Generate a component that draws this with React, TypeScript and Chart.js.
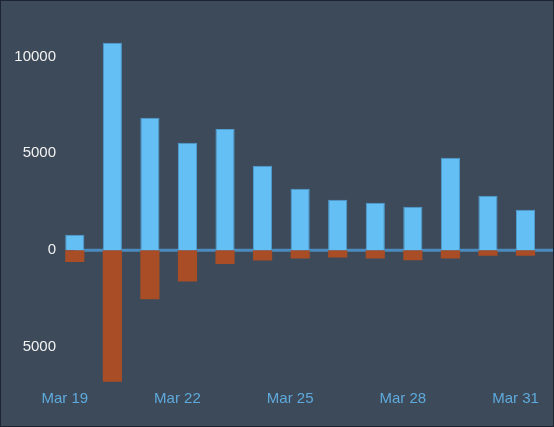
import React, { useEffect, useRef } from "react";
import { Chart, registerables } from "chart.js";

Chart.register(...registerables);

const categories = [
  "Mar 19", "Mar 20", "Mar 21", "Mar 22", "Mar 23", "Mar 24", "Mar 25",
  "Mar 26", "Mar 27", "Mar 28", "Mar 29", "Mar 30", "Mar 31",
];
const positiveValues = [800, 10700, 6830, 5540, 6260, 4360, 3170, 2600, 2450, 2240, 4770, 2810, 2090];
const negativeValues = [-600, -6780, -2520, -1610, -710, -530, -420, -370, -420, -510, -420, -280, -280];
const yTickValues = [-5000, 0, 5000, 10000];

const BG = "#3d4a5a";
const FONT = "'Liberation Sans', Arial, Helvetica, sans-serif";

const zeroLinePlugin = {
  id: "zeroLine",
  beforeDatasetsDraw(chart: any) {
    const { ctx, scales } = chart;
    const y = scales.y.getPixelForValue(0);
    const x0 = scales.x.getPixelForValue(0);
    ctx.save();
    ctx.strokeStyle = "#4a8cbf";
    ctx.lineWidth = 3;
    ctx.beginPath();
    ctx.moveTo(x0, y);
    ctx.lineTo(chart.width, y);
    ctx.stroke();
    ctx.restore();
  },
};

export default function App() {
  const ref = useRef<HTMLCanvasElement>(null);

  useEffect(() => {
    document.body.style.margin = "0";
    const chart = new Chart(ref.current!, {
      type: "bar",
      data: {
        labels: categories,
        datasets: [
          {
            data: positiveValues,
            backgroundColor: "#64bff5",
            borderColor: "#4f9fd3",
            borderWidth: 1,
            barPercentage: 0.51,
            categoryPercentage: 1,
          },
          {
            data: negativeValues,
            backgroundColor: "#a84d26",
            borderColor: "#a84d26",
            borderWidth: 0,
            barPercentage: 0.51,
            categoryPercentage: 1,
          },
        ],
      },
      options: {
        animation: false,
        responsive: true,
        maintainAspectRatio: false,
        layout: { padding: { left: 0, right: 3.5, top: 36, bottom: 0 } },
        plugins: { legend: { display: false }, tooltip: { enabled: false } },
        scales: {
          x: {
            stacked: true,
            grid: { display: false, drawTicks: false },
            border: { display: false },
            afterFit(scale: any) {
              scale.height = 40;
            },
            ticks: {
              autoSkip: false,
              maxRotation: 0,
              padding: 4,
              labelOffset: -10,
              color: "#5eaadc",
              font: { family: FONT, size: 15 },
              callback(_v: any, i: number) {
                return i % 3 === 0 ? categories[i] : null;
              },
            },
          },
          y: {
            stacked: true,
            min: -7000,
            max: 11000,
            grid: { display: false, drawTicks: false },
            border: { display: false },
            afterFit(scale: any) {
              scale.width = 55;
            },
            afterBuildTicks(scale: any) {
              scale.ticks = yTickValues.map((v) => ({ value: v }));
            },
            ticks: {
              padding: 0,
              color: "#f2f2f2",
              font: { family: FONT, size: 15 },
              callback(v: any) {
                return String(Math.abs(Number(v)));
              },
            },
          },
        },
      },
      plugins: [zeroLinePlugin],
    });
    return () => chart.destroy();
  }, []);

  return (
    <div
      style={{
        width: 554,
        height: 427,
        boxSizing: "border-box",
        border: "1px solid #1c2331",
        background: BG,
      }}
    >
      <div style={{ position: "relative", width: "100%", height: "100%" }}>
        <canvas ref={ref} />
      </div>
    </div>
  );
}
